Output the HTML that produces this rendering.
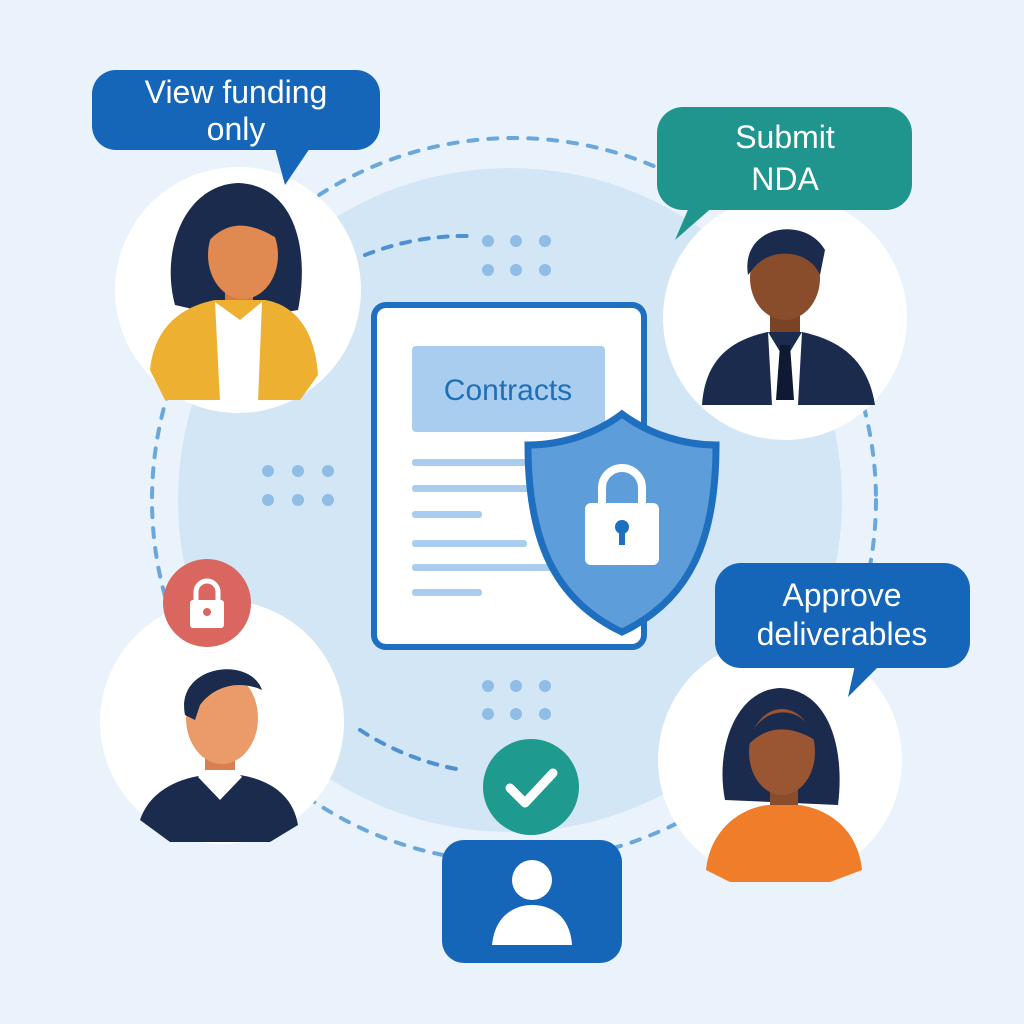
<!DOCTYPE html>
<html><head><meta charset="utf-8"><style>
html,body{margin:0;padding:0;background:#eaf3fb;}
svg{display:block}
text{font-family:"Liberation Sans",sans-serif;}
</style></head><body>
<svg width="1024" height="1024" viewBox="0 0 1024 1024">
<rect width="1024" height="1024" fill="#eaf3fb"/>
<circle cx="510" cy="500" r="332" fill="#d3e6f5"/>
<circle cx="514" cy="500" r="362" fill="none" stroke="#6aa8dc" stroke-width="4" stroke-dasharray="9 11" stroke-linecap="round"/>
<path d="M365 255 A 270 270 0 0 1 470 236" fill="none" stroke="#4f90d0" stroke-width="4" stroke-dasharray="9 10" stroke-linecap="round"/>
<path d="M360 730 A 270 270 0 0 0 462 770" fill="none" stroke="#4f90d0" stroke-width="4" stroke-dasharray="9 10" stroke-linecap="round"/>
<g fill="#8fbde6">
<circle cx="488" cy="241" r="6"/><circle cx="516" cy="241" r="6"/><circle cx="545" cy="241" r="6"/>
<circle cx="488" cy="270" r="6"/><circle cx="516" cy="270" r="6"/><circle cx="545" cy="270" r="6"/>
<circle cx="268" cy="471" r="6"/><circle cx="298" cy="471" r="6"/><circle cx="328" cy="471" r="6"/>
<circle cx="268" cy="500" r="6"/><circle cx="298" cy="500" r="6"/><circle cx="328" cy="500" r="6"/>
<circle cx="488" cy="686" r="6"/><circle cx="516" cy="686" r="6"/><circle cx="545" cy="686" r="6"/>
<circle cx="488" cy="714" r="6"/><circle cx="516" cy="714" r="6"/><circle cx="545" cy="714" r="6"/>
</g>
<!-- document -->
<rect x="374" y="305" width="270" height="342" rx="12" fill="#fff" stroke="#1e6fc0" stroke-width="6"/>
<rect x="412" y="346" width="193" height="86" rx="4" fill="#a9cdee"/>
<text x="508" y="400" font-size="30" fill="#1f6fb8" text-anchor="middle">Contracts</text>
<g fill="#a9cdee">
<rect x="412" y="459" width="150" height="7" rx="3"/>
<rect x="412" y="485" width="120" height="7" rx="3"/>
<rect x="412" y="511" width="70" height="7" rx="3"/>
<rect x="412" y="540" width="115" height="7" rx="3"/>
<rect x="412" y="564" width="140" height="7" rx="3"/>
<rect x="412" y="589" width="70" height="7" rx="3"/>
</g>
<!-- shield -->
<path d="M622 414 C 650 435 685 445 716 445 C 716 540 690 600 622 632 C 554 600 528 540 528 445 C 560 445 594 435 622 414 Z" fill="#5d9dd9" stroke="#1e6fc0" stroke-width="7"/>
<path d="M602 505 V488 a20 20 0 0 1 40 0 V505" fill="none" stroke="#fff" stroke-width="8"/>
<rect x="585" y="503" width="74" height="62" rx="6" fill="#fff"/>
<circle cx="622" cy="527" r="7" fill="#1e6fc0"/><rect x="619" y="528" width="6" height="17" fill="#1e6fc0"/>
<!-- person circles -->
<circle cx="238" cy="290" r="123" fill="#fff"/>
<circle cx="785" cy="318" r="122" fill="#fff"/>
<circle cx="222" cy="722" r="122" fill="#fff"/>
<circle cx="780" cy="760" r="122" fill="#fff"/>
<!-- woman top-left -->
<path d="M175 305 C 160 250 185 185 238 183 C 295 185 310 250 298 310 L 240 320 Z" fill="#1a2b4e"/>
<rect x="225" y="280" width="28" height="35" fill="#d9773f"/>
<ellipse cx="243" cy="255" rx="35" ry="44" fill="#e08a52"/>
<path d="M205 245 C 210 200 265 195 280 240 C 255 225 230 215 205 245 Z" fill="#1a2b4e"/>
<path d="M150 370 C 155 320 190 305 215 300 L 265 300 C 295 305 315 330 318 375 L 300 400 L 165 400 Z" fill="#eeb030"/>
<path d="M215 302 L 240 320 L 262 302 L 258 402 L 220 402 Z" fill="#fff"/>
<!-- man top-right -->
<rect x="770" y="300" width="30" height="40" fill="#7a4326"/>
<ellipse cx="785" cy="278" rx="35" ry="42" fill="#8a4d2c"/>
<path d="M748 275 C 740 225 805 215 825 250 L 820 275 C 810 250 770 245 752 270 Z" fill="#1a2b4e"/>
<path d="M702 405 C 705 360 730 340 768 332 L 802 332 C 840 340 868 360 875 405 Z" fill="#1a2b4e"/>
<path d="M768 332 L 785 360 L 802 332 L 798 405 L 772 405 Z" fill="#fff"/>
<path d="M780 345 L 790 345 L 794 400 L 776 400 Z" fill="#0e1a33"/>
<!-- man bottom-left -->
<rect x="205" y="750" width="30" height="35" fill="#d88050"/>
<ellipse cx="222" cy="718" rx="36" ry="46" fill="#eb9a6a"/>
<path d="M185 715 C 175 665 250 655 262 690 C 240 680 215 685 200 705 L 195 720 Z" fill="#1a2b4e"/>
<path d="M140 820 C 150 790 180 778 205 775 L 240 775 C 270 780 293 795 298 825 L 270 842 L 170 842 Z" fill="#1a2b4e"/>
<path d="M198 777 L 220 800 L 242 777 L 235 770 L 205 770 Z" fill="#fff"/>
<!-- woman bottom-right -->
<path d="M725 800 C 715 750 735 690 780 688 C 830 690 845 750 838 805 Z" fill="#1a2b4e"/>
<rect x="770" y="780" width="28" height="30" fill="#8a4d2c"/>
<ellipse cx="782" cy="752" rx="33" ry="43" fill="#9a5533"/>
<path d="M748 745 C 755 705 805 700 815 740 C 795 728 770 722 748 745 Z" fill="#1a2b4e"/>
<path d="M706 870 C 710 830 740 808 768 805 L 800 805 C 830 810 858 830 862 870 L 830 882 L 730 882 Z" fill="#f07d2a"/>
<!-- bubbles -->
<rect x="92" y="70" width="288" height="80" rx="24" fill="#1565b8"/>
<path d="M275 148 L 285 185 L 310 148 Z" fill="#1565b8"/>
<text x="236" y="103" font-size="32" fill="#fff" text-anchor="middle">View funding</text>
<text x="236" y="140" font-size="32" fill="#fff" text-anchor="middle">only</text>
<rect x="657" y="107" width="255" height="103" rx="26" fill="#20958e"/>
<path d="M690 205 L 675 240 L 715 205 Z" fill="#20958e"/>
<text x="785" y="148" font-size="32" fill="#fff" text-anchor="middle">Submit</text>
<text x="785" y="190" font-size="32" fill="#fff" text-anchor="middle">NDA</text>
<rect x="715" y="563" width="255" height="105" rx="26" fill="#1565b8"/>
<path d="M855 665 L 848 697 L 880 665 Z" fill="#1565b8"/>
<text x="842" y="606" font-size="32" fill="#fff" text-anchor="middle">Approve</text>
<text x="842" y="645" font-size="32" fill="#fff" text-anchor="middle">deliverables</text>
<!-- red lock -->
<circle cx="207" cy="603" r="44" fill="#d9675f"/>
<path d="M196 603 V592 a11 11 0 0 1 22 0 V603" fill="none" stroke="#fff" stroke-width="5"/>
<rect x="190" y="600" width="34" height="28" rx="3" fill="#fff"/>
<circle cx="207" cy="612" r="4" fill="#d9675f"/>
<!-- check -->
<circle cx="531" cy="787" r="48" fill="#1f9a8e"/>
<path d="M510 788 L 525 803 L 553 773" fill="none" stroke="#fff" stroke-width="9" stroke-linecap="round" stroke-linejoin="round"/>
<!-- user box -->
<rect x="442" y="840" width="180" height="123" rx="22" fill="#1565b8"/>
<circle cx="532" cy="880" r="20" fill="#fff"/>
<path d="M492 945 C 495 915 515 905 532 905 C 550 905 570 915 572 945 Z" fill="#fff"/>
</svg>
</body></html>
